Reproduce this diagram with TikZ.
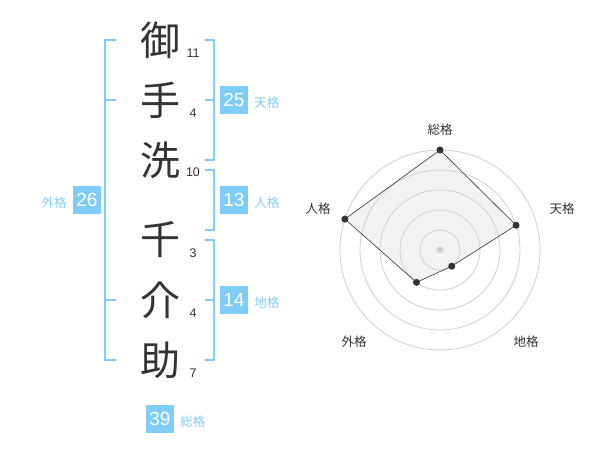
\documentclass[tikz,border=0pt]{standalone}
\usepackage{fontspec}
\setmainfont{Liberation Sans}
\newfontfamily\jpfont{Noto Sans CJK JP}
\usetikzlibrary{positioning}
\definecolor{kakublue}{RGB}{128,204,248}
\definecolor{ink}{RGB}{51,51,51}
\definecolor{ringgray}{RGB}{208,208,208}
\tikzset{
  bracket/.style={kakublue,line width=2pt},
  kanji/.style={inner sep=0pt,text=ink,font=\jpfont\fontsize{40}{40}\selectfont},
  strokes/.style={inner sep=0pt,text=ink,font=\fontsize{12.5}{13}\selectfont},
  badge/.style={rectangle,fill=kakublue,text=white,inner sep=0pt,minimum
    width=28pt,minimum height=28pt,font=\fontsize{19}{19}\selectfont},
  kaku/.style={inner sep=0pt,text=kakublue,node distance=6pt,
    font=\jpfont\fontsize{12.5}{13}\selectfont},
  axislabel/.style={inner sep=0pt,text=ink,font=\jpfont\fontsize{12.5}{13}\selectfont},
  ring/.style={ringgray,line width=0.8pt},
  vertex/.style={circle,fill=ink,inner sep=0pt,minimum size=7pt}
}
\begin{document}
\begin{tikzpicture}[x=1pt,y=1pt]
  \useasboundingbox (0,0) rectangle (600,470);
  % name
  \node (c1) at (160,430) [kanji] {御};
  \node (c2) at (160,370) [kanji] {手};
  \node (c3) at (160,310) [kanji] {洗};
  \node (c4) at (160,230) [kanji] {千};
  \node (c5) at (160,170) [kanji] {介};
  \node (c6) at (160,110) [kanji] {助};
  \node (s1) at (193,417) [strokes] {11};
  \node (s2) at (193,357) [strokes] {4};
  \node (s3) at (193,298) [strokes] {10};
  \node (s4) at (193,217) [strokes] {3};
  \node (s5) at (193,157) [strokes] {4};
  \node (s6) at (193,97) [strokes] {7};
  % brackets
  \draw[bracket] (116,430) -- (105,430) -- (105,110) -- (116,110);
  \draw[bracket] (105,370) -- (116,370) (105,170) -- (116,170);
  \draw[bracket] (205,430) -- (214,430) -- (214,310) -- (205,310);
  \draw[bracket] (214,370) -- (205,370);
  \draw[bracket] (205,300) -- (214,300) -- (214,240) -- (205,240);
  \draw[bracket] (205,230) -- (214,230) -- (214,110) -- (205,110);
  \draw[bracket] (214,170) -- (205,170);
  % scores
  \node (ten) at (234,370) [badge] {25};
  \node (jin) at (234,270) [badge] {13};
  \node (chi) at (234,170) [badge] {14};
  \node (gai) at (87,270) [badge] {26};
  \node (sou) at (160,51) [badge] {39};
  \node (tenl) [kaku,right=of ten,yshift=-3pt] {天格};
  \node (jinl) [kaku,right=of jin,yshift=-3pt] {人格};
  \node (chil) [kaku,right=of chi,yshift=-3pt] {地格};
  \node (gail) [kaku,left=of gai,yshift=-3pt] {外格};
  \node (soul) [kaku,right=of sou,yshift=-3pt] {総格};
  % radar
  \begin{scope}[shift={(440,220)}]
    \coordinate (q1) at (90:100);
    \coordinate (q2) at (18:80);
    \coordinate (q3) at (-54:20);
    \coordinate (q4) at (-126:40);
    \coordinate (q5) at (162:100);
    \fill[gray!10] (q1) -- (q2) -- (q3) -- (q4) -- (q5) -- cycle;
    \draw[ring] (0,0) circle (20) circle (40) circle (60) circle (80) circle (100);
    \fill[ringgray] (0,0) circle (3.5);
    \draw[ink,line width=0.6pt] (q1) -- (q2) -- (q3) -- (q4) -- (q5) -- cycle;
    \node (p1) at (q1) [vertex] {};
    \node (p2) at (q2) [vertex] {};
    \node (p3) at (q3) [vertex] {};
    \node (p4) at (q4) [vertex] {};
    \node (p5) at (q5) [vertex] {};
    \node (a1) at (0,120) [axislabel] {総格};
    \node (a2) at (122,41) [axislabel] {天格};
    \node (a3) at (86,-92) [axislabel] {地格};
    \node (a4) at (-86,-92) [axislabel] {外格};
    \node (a5) at (-122,41) [axislabel] {人格};
  \end{scope}
\end{tikzpicture}
\end{document}
